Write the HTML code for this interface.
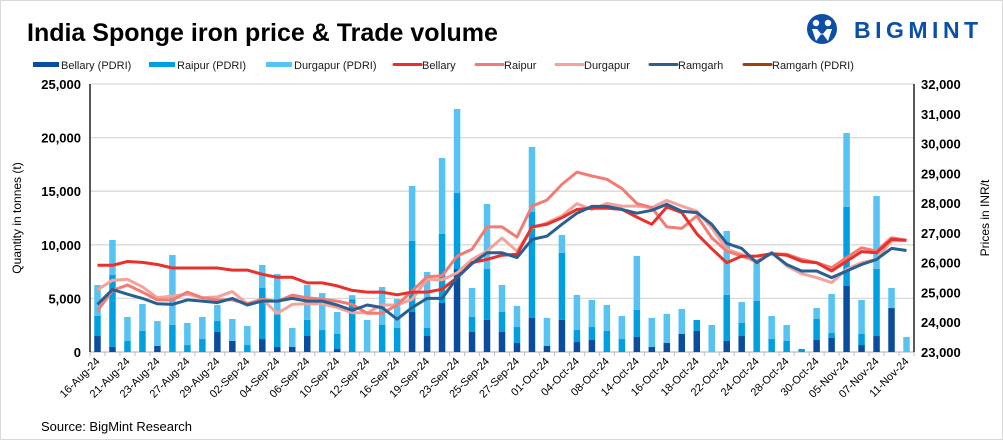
<!DOCTYPE html>
<html><head><meta charset="utf-8">
<style>
html,body{margin:0;padding:0;background:#fff;}
body{width:1003px;height:440px;overflow:hidden;font-family:"Liberation Sans",sans-serif;}
#wrap{position:relative;width:1001px;height:438px;border:1px solid #d9d9d9;}
svg text{font-family:"Liberation Sans",sans-serif;}
</style></head>
<body>
<div id="wrap">
<svg id="chart" width="1001" height="438" xmlns="http://www.w3.org/2000/svg">
  <text x="26" y="40" font-size="25" font-weight="bold" fill="#000">India Sponge iron price &amp; Trade volume</text>
  <g>
    <circle cx="821" cy="28" r="15" fill="#0d4fa8"/>
    <circle cx="815" cy="22" r="3.2" fill="#fff"/>
    <circle cx="827" cy="22" r="3.2" fill="#fff"/>
    <path d="M811 28 L815 40 L821 32 L827 40 L831 28 L826 28 L821 34 L816 28 Z" fill="#fff"/>
    <text x="853" y="37" font-size="23" font-weight="bold" fill="#0d4fa8" letter-spacing="4.5">BIGMINT</text>
  </g>
  <g id="legend"></g>
  <g id="grid"></g>
  <g id="bars"></g>
  <g id="lines"></g>
  <g id="axes"></g>
  <text x="40" y="430" font-size="13" fill="#000">Source: BigMint Research</text>
</svg>
</div>
<script>
const categories = ["16-Aug-24","20-Aug-24","21-Aug-24","22-Aug-24","23-Aug-24","26-Aug-24","27-Aug-24","28-Aug-24","29-Aug-24","30-Aug-24","02-Sep-24","03-Sep-24","04-Sep-24","05-Sep-24","06-Sep-24","09-Sep-24","10-Sep-24","11-Sep-24","12-Sep-24","13-Sep-24","16-Sep-24","17-Sep-24","19-Sep-24","20-Sep-24","23-Sep-24","24-Sep-24","25-Sep-24","26-Sep-24","27-Sep-24","30-Sep-24","01-Oct-24","03-Oct-24","04-Oct-24","07-Oct-24","08-Oct-24","09-Oct-24","14-Oct-24","15-Oct-24","16-Oct-24","17-Oct-24","18-Oct-24","21-Oct-24","22-Oct-24","23-Oct-24","24-Oct-24","25-Oct-24","28-Oct-24","29-Oct-24","30-Oct-24","04-Nov-24","05-Nov-24","06-Nov-24","07-Nov-24","08-Nov-24","11-Nov-24"];
const bellaryPdri = [1490,470,0,0,560,0,0,0,1870,1030,0,1210,470,470,1490,0,280,0,0,0,0,3730,1490,4570,7740,1870,2990,1870,840,3170,560,2990,930,1120,0,0,1400,470,840,1680,1960,0,1030,1490,0,0,0,0,1120,1310,6160,650,1490,4100,0];
const raipurPdri = [1870,6710,1030,1990,0,2520,650,1210,1020,0,650,4760,3040,0,1500,2050,1400,4900,0,2520,2240,6630,750,6440,7090,1400,4750,1860,1490,9890,0,6250,1120,1210,1960,1210,2520,0,0,0,1030,0,4290,1220,4760,1210,1030,280,1960,460,7370,1030,6250,0,0];
const durgapurPdri = [2890,3270,2240,2490,2330,6530,2060,2060,1500,2050,1780,2150,3770,1770,3260,3450,2050,400,2990,3540,2700,5130,5220,7090,7840,2700,6070,2520,1960,6070,2610,1680,3270,2520,2430,2150,5040,2700,2710,2330,0,2520,5970,1950,3570,2150,1490,0,1020,3640,6900,3170,6810,1870,1400];
const bellary = [25910,25910,26040,26010,25940,25820,25820,25820,25820,25750,25750,25610,25510,25510,25320,25320,25220,25070,25010,25010,24920,25010,25010,25110,25500,26000,26110,26250,26280,27200,27290,27510,27790,27830,27830,27790,27530,27290,27870,27680,26970,26470,26000,26220,26220,26300,26250,26050,26000,25720,26050,26370,26330,26780,26750];
const raipur = [24380,25070,25250,25010,24750,24750,25010,24820,24750,24750,24620,24770,24700,24910,24820,24770,24710,24600,24300,24300,24580,25050,25530,25560,26220,26450,27200,27200,26860,27900,28100,28630,29040,28910,28800,28490,27990,27850,27200,27150,27570,26840,26390,26220,26050,26300,26280,26110,26000,25830,26170,26500,26390,26840,26750];
const durgapur = [25090,25410,25440,25190,24820,24880,24940,24820,24850,25030,24620,24770,24300,24600,24620,24620,24490,24320,24320,24580,24580,24770,25440,25420,25660,26110,26390,26830,26390,27170,27340,27570,27980,27790,27990,27900,27900,27850,28090,27900,27730,27170,26450,26280,26000,26330,25890,25630,25500,25330,25780,26000,26110,26730,26750];
const ramgarh = [24600,25100,24940,24800,24620,24600,24750,24710,24660,24800,24580,24710,24710,24800,24710,24710,24580,24400,24580,24490,24100,24490,24800,24800,25500,25970,26330,26330,26170,26780,26890,27290,27660,27890,27890,27790,27660,27760,27960,27730,27680,27290,26650,26480,26000,26330,25940,25720,25720,25500,25720,25940,26110,26480,26410];
const leftTicks = [0,5000,10000,15000,20000,25000];
const rightTicks = [23000,24000,25000,26000,27000,28000,29000,30000,31000,32000];

const NS="http://www.w3.org/2000/svg";
const X0=89, X1=913, Y0=351, Y1=83;
const band=(X1-X0)/categories.length;
const xC=i=>X0+band*(i+0.5);
const yL=v=>Y0-(v-0)/(25000-0)*(Y0-Y1);
const yR=v=>Y0-(v-23000)/(32000-23000)*(Y0-Y1);
function mk(tag,attrs,parent){const e=document.createElementNS(NS,tag);for(const k in attrs)e.setAttribute(k,attrs[k]);parent.appendChild(e);return e;}
const fmt=v=>v.toLocaleString('en-US');

const grid=document.getElementById('grid');
leftTicks.forEach(t=>{
  const l=mk('line',{x1:X0,x2:X1,y1:yL(t),y2:yL(t),stroke:t===0?'#bfbfbf':'#d9d9d9','stroke-width':1.3},grid);
  
  
});

const barsG=document.getElementById('bars');
const bw=6.5;
const segs=[[bellaryPdri,'#0a4d9e','bar-bellary-pdri'],[raipurPdri,'#00a0e0','bar-raipur-pdri'],[durgapurPdri,'#56c3f2','bar-durgapur-pdri']];
categories.forEach((c,i)=>{
  let cum=0;
  segs.forEach(([arr,col,name])=>{
    const v=arr[i]; if(!v){return;}
    const yt=yL(cum+v), yb=yL(cum);
    const r=mk('rect',{x:xC(i)-bw/2,y:yt,width:bw,height:yb-yt,fill:col},barsG);
    
    
    cum+=v;
  });
});

const linesG=document.getElementById('lines');
const series=[[durgapur,'#f4a39c','line-durgapur'],[raipur,'#f27c74','line-raipur'],[bellary,'#e8312c','line-bellary'],[ramgarh,'#2a5f92','line-ramgarh']];
series.forEach(([arr,col,name])=>{
  const d=arr.map((v,i)=>(i?'L':'M')+xC(i).toFixed(1)+' '+yR(v).toFixed(1)).join(' ');
  const p=mk('path',{d:d,fill:'none',stroke:col,'stroke-width':3,'stroke-linejoin':'round'},linesG);
  
  
});

const ax=document.getElementById('axes');
let a=mk('line',{x1:X0,x2:X0,y1:Y1,y2:Y0,stroke:'#000','stroke-width':1.3},ax);


a=mk('line',{x1:X1,x2:X1,y1:Y1,y2:Y0,stroke:'#000','stroke-width':1.3},ax);


leftTicks.forEach(t=>{
  const tx=mk('text',{x:80,y:yL(t)+5,'text-anchor':'end','font-size':13,'font-weight':'bold',fill:'#000'},ax);
  tx.textContent=fmt(t);
  
  
});
rightTicks.forEach(t=>{
  const tx=mk('text',{x:920,y:yR(t)+5,'font-size':13,'font-weight':'bold',fill:'#000'},ax);
  tx.textContent=fmt(t);
  
  
});
for(let i=0;i<=categories.length;i++){
  const tk=mk('line',{x1:X0+band*i,x2:X0+band*i,y1:Y0,y2:Y0+4,stroke:'#bfbfbf','stroke-width':1},ax);
  
  
}
categories.forEach((c,i)=>{
  if(i%2) return;
  const x=xC(i)+3, y=Y0+10;
  const tx=mk('text',{x:x,y:y,'text-anchor':'end','font-size':11,fill:'#000',transform:`rotate(-45 ${x} ${y})`},ax);
  tx.textContent=c;
  
  
});
let yt=mk('text',{x:0,y:0,'text-anchor':'middle','font-size':12,fill:'#000',transform:`translate(20 217) rotate(-90)`},ax);
yt.textContent='Quantity in tonnes (t)';


yt=mk('text',{x:0,y:0,'text-anchor':'middle','font-size':12,fill:'#000',transform:`translate(988 217) rotate(-90)`},ax);
yt.textContent='Prices in INR/t';



const lg=document.getElementById('legend');
const legendItems=[['Bellary (PDRI)','#0a4d9e',32,'bar'],['Raipur (PDRI)','#00a0e0',148,'bar'],['Durgapur (PDRI)','#56c3f2',265,'bar'],['Bellary','#e8312c',393,'line'],['Raipur','#f27c74',475,'line'],['Durgapur','#f4a39c',555,'line'],['Ramgarh','#2a5f92',649,'line'],['Ramgarh (PDRI)','#a0410d',743,'line']];
legendItems.forEach(([lab,col,x,kind])=>{
  const g=mk('g',{},lg);
  
  
  if(kind==='bar') mk('rect',{x:x,y:61,width:26,height:5,fill:col},g);
  else mk('line',{x1:x,x2:x+27,y1:63.5,y2:63.5,stroke:col,'stroke-width':3,'stroke-linecap':'round'},g);
  const t=mk('text',{x:x+28,y:68,'font-size':11,fill:'#1a1a1a'},g);
  t.textContent=lab;
});
</script>
</body></html>
